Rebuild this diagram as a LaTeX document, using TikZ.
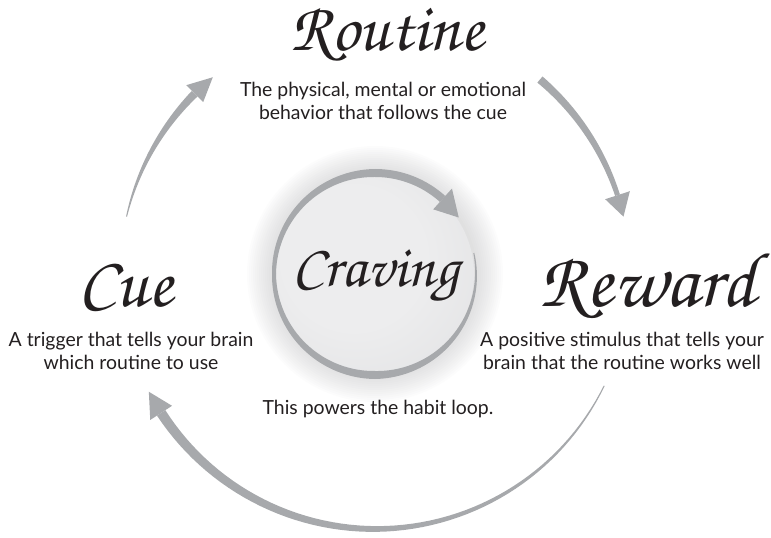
\documentclass[tikz,border=0pt]{standalone}
\usepackage[T1,TU]{fontenc}
\usepackage{fontspec}
\setmainfont{Lato}
\usetikzlibrary{positioning}
\definecolor{loopgray}{HTML}{A7A9AC}
\definecolor{inkblack}{HTML}{231F20}
\definecolor{discin}{HTML}{EDEDEE}
\definecolor{discout}{HTML}{D8D9DB}
\definecolor{haloc}{HTML}{B0B0B2}
\pgfdeclareradialshading{cravdisc}{\pgfpoint{-8bp}{6bp}}{color(0bp)=(discin); color(18bp)=(discin); color(56bp)=(discout)}
\newcommand{\handwrite}{\fontencoding{T1}\fontfamily{pzc}\fontseries{mb}\fontshape{it}\selectfont}
% tapered band round the origin: radius, from angle, to angle, width at start, width at end
\newcommand{\loopband}[5]{plot[domain=#2:#3,samples=60]({(#1+(#4+(#5-#4)*(\x-(#2))/((#3)-(#2)))/2)*cos(\x)},{(#1+(#4+(#5-#4)*(\x-(#2))/((#3)-(#2)))/2)*sin(\x)}) -- plot[domain=#3:#2,samples=60]({(#1-(#4+(#5-#4)*(\x-(#2))/((#3)-(#2)))/2)*cos(\x)},{(#1-(#4+(#5-#4)*(\x-(#2))/((#3)-(#2)))/2)*sin(\x)}) -- cycle}
% arrow head: radius, base angle, tip angle, half width
\newcommand{\loophead}[4]{(#2:#1+#4) -- (#3:#1) -- (#2:#1-#4) -- cycle}

\begin{document}
\begin{tikzpicture}[x=1bp,y=1bp,
  title/.style={inner sep=0pt,anchor=base,text=inkblack,font=\handwrite\fontsize{72}{72}\selectfont},
  note/.style={inner sep=0pt,anchor=north,align=center,text=inkblack,font=\fontsize{19.5}{23}\selectfont}]
  \useasboundingbox (0,0) rectangle (771,-538);
  \coordinate (hub) at (375,-274);

  % craving in the middle
  \foreach \k in {0,...,13}
    \fill[haloc,opacity=0.035] (hub) circle (102+2*\k);
  \shade[shading=cravdisc] (hub) circle (99);
  \begin{scope}[shift={(hub)}]
    \fill[loopgray] \loopband{101}{12}{-90}{1}{8};
    \fill[loopgray] \loopband{101}{-90}{-180}{8}{4};
    \fill[loopgray] \loopband{101}{-180}{-270}{4}{8};
    \fill[loopgray] \loopband{101}{-270}{-312}{8}{8};
    \fill[loopgray] \loophead{101}{-312}{-326}{14};
    % the habit loop
    \fill[loopgray] \loopband{255}{167}{135}{1}{8};
    \fill[loopgray] \loophead{255}{135}{129.5}{12};
    \fill[loopgray] \loopband{255}{49.7}{18}{8}{5};
    \fill[loopgray] \loophead{255}{18}{13}{13};
    \fill[loopgray] \loopband{255}{-26}{-147}{1}{10};
    \fill[loopgray] \loophead{255}{-147}{-152.5}{13};
  \end{scope}

  \node[title,font=\handwrite\fontsize{69}{69}\selectfont] (routine) at (387,-51) {Routine};
  \node[title] (cue) at (126,-307) {Cue};
  \node[title,font=\handwrite\fontsize{78}{78}\selectfont] (reward) at (648,-307) {Reward};
  \node[title,font=\handwrite\fontsize{60}{60}\selectfont] (craving) at (376,-287) {Craving};

  \node[note] (routinetext) at (383,-82) {The physical, mental or emotional\\behavior that follows the cue};
  \node[note] (cuetext) at (131,-332) {A trigger that tells your brain\\which routine to use};
  \node[note] (rewardtext) at (622,-332) {A positive stimulus that tells your\\brain that the routine works well};
  \node[note] (cravingtext) at (378,-400) {This powers the habit loop.};
\end{tikzpicture}
\end{document}
